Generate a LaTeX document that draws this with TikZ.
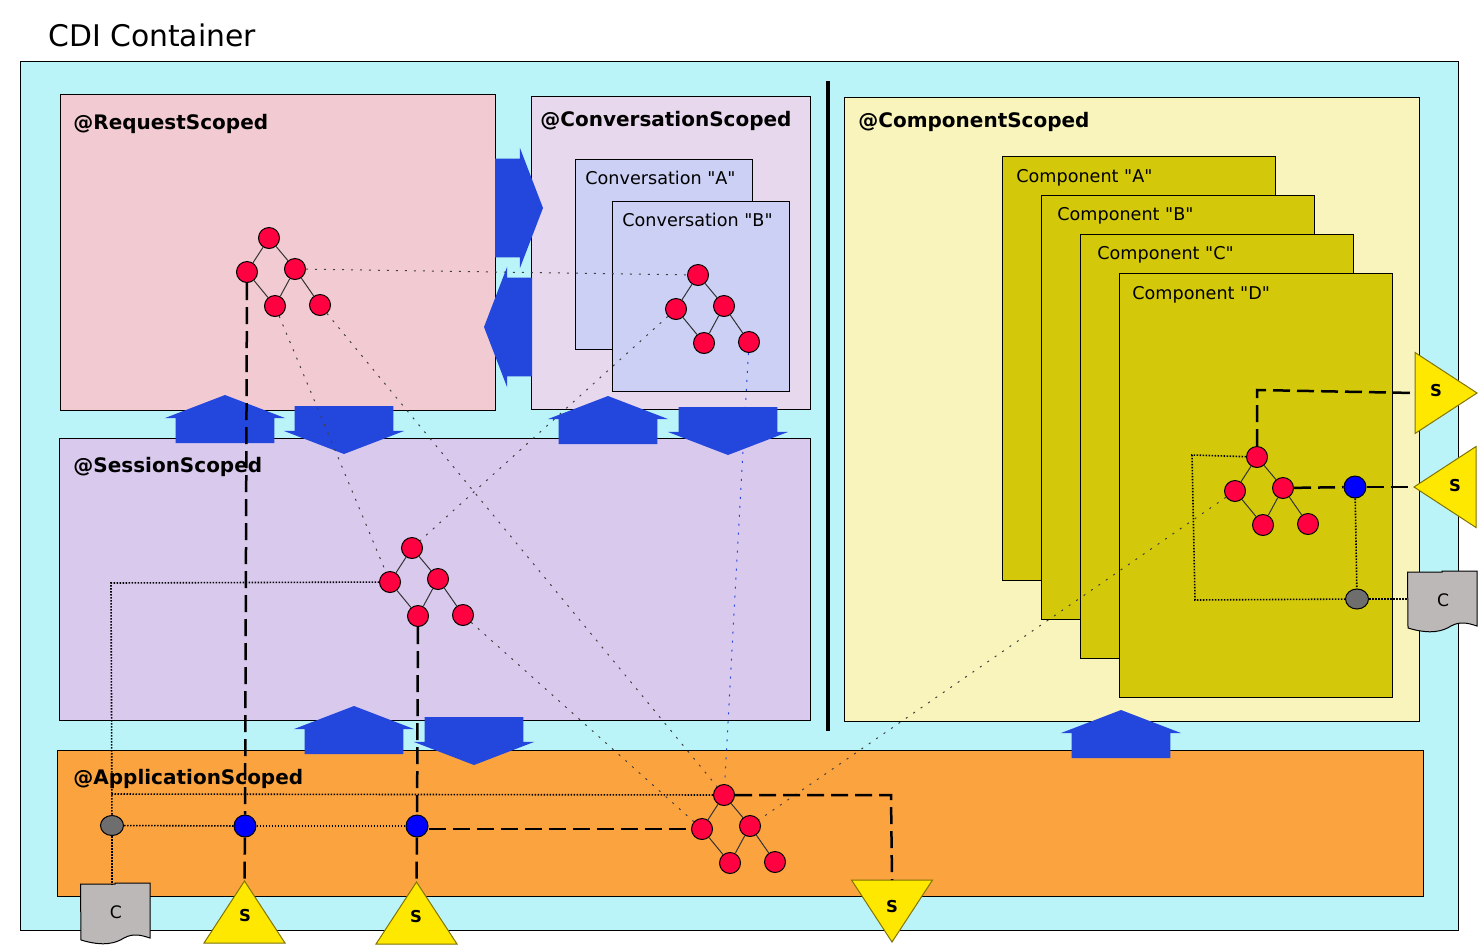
\documentclass[tikz,border=0pt]{standalone}
\usepackage{fontspec}
\setmainfont{DejaVu Sans}
\newfontfamily\plainfont{DejaVu Sans}
\usetikzlibrary{shapes.geometric,shapes.arrows}
\newlength{\du}
\setlength{\du}{0.5pt}
\definecolor{containercolor}{HTML}{BAF4F8}
\definecolor{requestcolor}{HTML}{F2CBD2}
\definecolor{conversationcolor}{HTML}{E8D8EE}
\definecolor{conversationboxcolor}{HTML}{CBD0F4}
\definecolor{sessioncolor}{HTML}{D9C9ED}
\definecolor{componentcolor}{HTML}{F9F4BC}
\definecolor{componentboxcolor}{HTML}{D3C90A}
\definecolor{applicationcolor}{HTML}{FBA33F}
\definecolor{blockcolor}{HTML}{2347DD}
\definecolor{beancolor}{HTML}{FF0040}
\definecolor{servicecolor}{HTML}{FFE800}
\definecolor{consumercolor}{HTML}{BCB8B8}
\tikzset{
  scopelabel/.style={anchor=base west,inner sep=0pt,font=\fontsize{10}{12}\bfseries\selectfont},
  boxlabel/.style={anchor=base west,inner sep=0pt,font=\fontsize{8.8}{10}\plainfont\selectfont},
  blockarrow/.style={single arrow,fill=blockcolor,inner xsep=0pt,inner ysep=49\du,outer sep=0pt,minimum height=48\du,
    single arrow head extend=11\du,single arrow tip angle=138,single arrow head indent=0pt,anchor=tip},
  bean/.style={circle,draw,line width=1\du,fill=beancolor,minimum size=21\du,inner sep=0pt},
  proxy/.style={circle,draw,line width=1\du,fill=blue,minimum size=22\du,inner sep=0pt},
  interceptor/.style={ellipse,draw,line width=1\du,fill=black!57,minimum width=23\du,minimum height=20\du,inner sep=0pt},
  servicenode/.style={isosceles triangle,isosceles triangle stretches,draw=black!50!servicecolor,line width=1\du,fill=servicecolor,
    minimum width=81\du,minimum height=62\du,inner sep=0pt,outer sep=0pt,anchor=apex},
  servicelabel/.style={inner sep=0pt,font=\fontsize{8.2}{10}\bfseries\selectfont},
  consumernode/.style={minimum width=70\du,minimum height=54\du,inner sep=0pt,font=\fontsize{8.6}{10}\selectfont},
  treeline/.style={line width=1\du,black!80},
  sparse/.style={line width=1\du,dash pattern=on 2\du off 7\du,black!75},
  dense/.style={line width=1.6\du,dash pattern=on 1.5\du off 1.5\du},
  wire/.style={line width=2.5\du,dash pattern=on 17\du off 7\du}
}

\begin{document}
\begin{tikzpicture}[x=1\du,y=-1\du]
\useasboundingbox (0,0) rectangle (1478,949);
\node[anchor=base west,inner sep=0pt,font=\fontsize{14.9}{18}\selectfont] (title) at (48,46) {CDI Container};
% the scopes
\foreach \bname/\bx/\by/\bw/\bh/\bcolor in {
  container/20.5/61.5/1437.5/868.5/containercolor,
  request/60/94.5/435/315.5/requestcolor,
  conversation/531.5/96.5/278.5/312.5/conversationcolor,
  convA/575/159/177/190/conversationboxcolor,
  convB/612/201/177/190/conversationboxcolor,
  session/59/438.5/751/281.5/sessioncolor,
  component/844/97/575/624/componentcolor,
  compA/1002/156/273/424/componentboxcolor,
  compB/1041/195/273/424/componentboxcolor,
  compC/1080/234/273/424/componentboxcolor,
  compD/1119/273/273/424/componentboxcolor,
  application/57/750.5/1366/145.5/applicationcolor}
  \node[draw,line width=1\du,fill=\bcolor,anchor=north west,inner sep=0pt,outer sep=0pt,minimum width=\bw\du,minimum height=\bh\du] (\bname) at (\bx,\by) {};
\coordinate (splitTop) at (828,81);
\coordinate (splitBottom) at (828,731);
\draw[line width=4\du] (splitTop) -- (splitBottom);
\node[scopelabel] (requestText) at (73,129) {@RequestScoped};
\node[scopelabel] (conversationText) at (540,126) {@ConversationScoped};
\node[scopelabel] (sessionText) at (73,472) {@SessionScoped};
\node[scopelabel] (componentText) at (858,127) {@ComponentScoped};
\node[scopelabel] (applicationText) at (73,784) {@ApplicationScoped};
\node[boxlabel] (convAText) at (585,184) {Conversation "A"};
\node[boxlabel] (convBText) at (622,226) {Conversation "B"};
\node[boxlabel] (compAText) at (1016,182) {Component "A"};
\node[boxlabel] (compBText) at (1057,220) {Component "B"};
\node[boxlabel] (compCText) at (1097,259) {Component "C"};
\node[boxlabel] (compDText) at (1132,299) {Component "D"};
% block arrows
\foreach \aname/\ax/\ay/\arot in {
  up1/225/395/90, down1/344/454/-90, up2/608/396/90, down2/728/455/-90,
  up3/354/706/90, down3/474/765/-90, up4/1121/710/90,
  right1/543/208/0, left1/484/327/180}
  \node[blockarrow,rotate=\arot] (\aname) at (\ax,\ay) {};
% the beans
\foreach \tname/\tx/\ty in {req/269/238, conv/698/275, sess/412/548, app/724/795, comp/1257/457}{
  \node[bean] (\tname Top) at (\tx,\ty) {};
  \node[bean] (\tname Left) at (\tx-22,\ty+34) {};
  \node[bean] (\tname Right) at (\tx+26,\ty+31) {};
  \node[bean] (\tname Low) at (\tx+6,\ty+68) {};
  \node[bean] (\tname Far) at (\tx+51,\ty+67) {};
  \draw[treeline] (\tname Top) -- (\tname Left);
  \draw[treeline] (\tname Top) -- (\tname Right);
  \draw[treeline] (\tname Left) -- (\tname Low);
  \draw[treeline] (\tname Right) -- (\tname Low);
  \draw[treeline] (\tname Right) -- (\tname Far);
}
\node[proxy] (proxyA) at (245,826) {};
\node[proxy] (proxyB) at (417,826) {};
\node[proxy] (proxyC) at (1355,487) {};
\node[interceptor] (interA) at (112,825.5) {};
\node[interceptor] (interB) at (1357,599) {};
% services and consumers
\node[servicenode,shape border rotate=90] (srvA) at (244.5,881) {};
\node[servicenode,shape border rotate=90] (srvB) at (416.5,882) {};
\node[servicenode,shape border rotate=-90] (srvC) at (892,942) {};
\node[servicenode,shape border rotate=0] (srvD) at (1477,393) {};
\node[servicenode,shape border rotate=180] (srvE) at (1414,487) {};
\node[servicelabel] (srvAText) at (245,916) {S};
\node[servicelabel] (srvBText) at (416,917) {S};
\node[servicelabel] (srvCText) at (892,907) {S};
\node[servicelabel] (srvDText) at (1436,391) {S};
\node[servicelabel] (srvEText) at (1455,486) {S};
\foreach \dname/\dx/\dy in {docA/116/912, docB/1443/600}{
  \draw[line width=1\du,fill=consumercolor,shift={(\dx,\dy)}] (-35.5,-28) -- (-1,-28) -- (-1,-29) -- (34,-29) -- (34,26)
    .. controls (25,23) and (17,21) .. (8,26) .. controls (0,31) and (-12,35) .. (-35,28) -- cycle;
  \node[consumernode] (\dname) at (\dx,\dy) {C};
}
% who sees whom
\coordinate (sessBend) at (111,583);
\coordinate (appBend) at (111,794);
\coordinate (srvBend) at (891,795);
\coordinate (compBend) at (1257,390);
\coordinate (dotBendA) at (1192,455);
\coordinate (dotBendB) at (1195,600);
\draw[sparse] (reqRight) -- (convTop);
\draw[sparse] (reqLow) -- (sessLeft);
\draw[sparse] (reqFar) -- (appTop);
\draw[sparse] (convLeft) -- (sessTop);
\draw[sparse,blockcolor] (convFar) -- (appTop);
\draw[sparse] (sessFar) -- (appLeft);
\draw[sparse] (compLeft) -- (appRight);
\draw[dense] (sessLeft) -- (sessBend) -- (interA);
\draw[dense] (appTop) -- (appBend);
\draw[dense] (interA) -- (proxyA);
\draw[dense] (proxyA) -- (proxyB);
\draw[dense] (interA) -- (interA |- docA.north);
\draw[wire] (reqLeft) -- (proxyA);
\draw[wire] (proxyA) -- (srvA.apex);
\draw[wire] (sessLow) -- (proxyB);
\draw[wire] (proxyB) -- (srvB.apex);
\draw[wire] (proxyB.east |- appLeft) -- (appLeft);
\draw[wire] (appTop) -- (srvBend) -- (srvC.lower side);
\draw[wire] (compTop) -- (compBend) -- (srvD.lower side);
\draw[wire] (compRight) -- (proxyC);
\draw[wire] (proxyC) -- (srvE.apex);
\draw[dense] (proxyC) -- (interB);
\draw[dense] (interB) -- (interB -| docB.west);
\draw[dense] (compTop) -- (dotBendA) -- (dotBendB) -- (interB);
\end{tikzpicture}
\end{document}
